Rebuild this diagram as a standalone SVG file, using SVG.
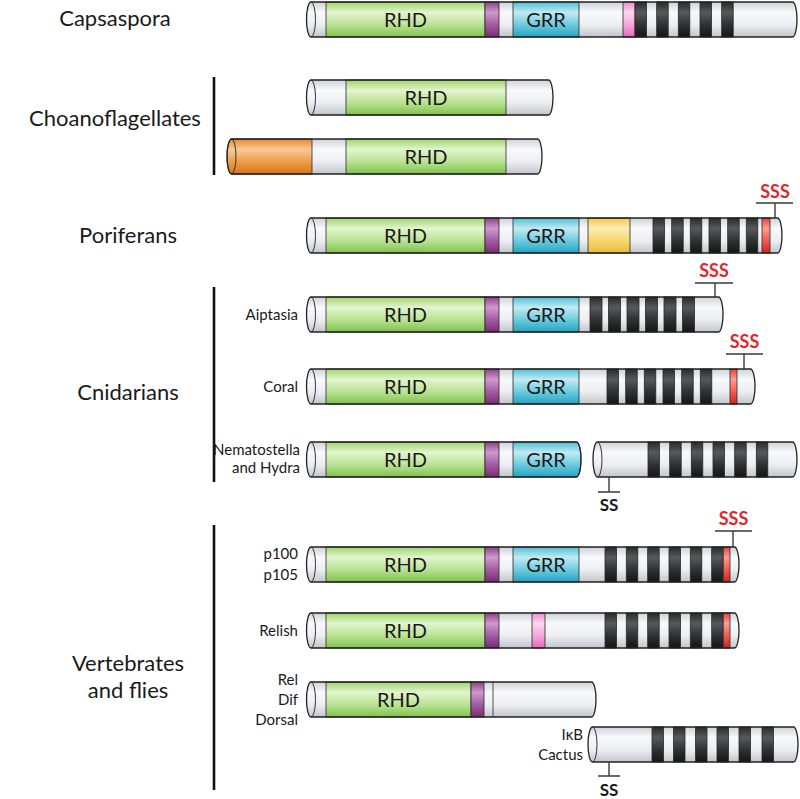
<svg xmlns="http://www.w3.org/2000/svg" width="800" height="799" viewBox="0 0 800 799">
<defs>
<linearGradient id="gGrey" x1="0" y1="0" x2="0" y2="1"><stop offset="0" stop-color="#cfd2d8"/><stop offset="0.3" stop-color="#f8f9fb"/><stop offset="0.65" stop-color="#eceef1"/><stop offset="1" stop-color="#c2c5cb"/></linearGradient>
<linearGradient id="gGreen" x1="0" y1="0" x2="0" y2="1"><stop offset="0" stop-color="#9fd46c"/><stop offset="0.3" stop-color="#e2f5cf"/><stop offset="0.65" stop-color="#b9e292"/><stop offset="1" stop-color="#7fc24c"/></linearGradient>
<linearGradient id="gPurple" x1="0" y1="0" x2="0" y2="1"><stop offset="0" stop-color="#8e3f8b"/><stop offset="0.3" stop-color="#cf9acb"/><stop offset="0.65" stop-color="#a35aa0"/><stop offset="1" stop-color="#7a2c77"/></linearGradient>
<linearGradient id="gCyan" x1="0" y1="0" x2="0" y2="1"><stop offset="0" stop-color="#4fbfd6"/><stop offset="0.3" stop-color="#c2eaf3"/><stop offset="0.65" stop-color="#6ccbde"/><stop offset="1" stop-color="#22a4c2"/></linearGradient>
<linearGradient id="gPink" x1="0" y1="0" x2="0" y2="1"><stop offset="0" stop-color="#f08ccd"/><stop offset="0.3" stop-color="#fcd6ee"/><stop offset="0.65" stop-color="#f5a6da"/><stop offset="1" stop-color="#e866bd"/></linearGradient>
<linearGradient id="gBlack" x1="0" y1="0" x2="0" y2="1"><stop offset="0" stop-color="#2a2a2c"/><stop offset="0.3" stop-color="#58595c"/><stop offset="0.65" stop-color="#303133"/><stop offset="1" stop-color="#151516"/></linearGradient>
<linearGradient id="gRed" x1="0" y1="0" x2="0" y2="1"><stop offset="0" stop-color="#e9413a"/><stop offset="0.3" stop-color="#ff9d94"/><stop offset="0.65" stop-color="#f25a50"/><stop offset="1" stop-color="#d2221c"/></linearGradient>
<linearGradient id="gOrange" x1="0" y1="0" x2="0" y2="1"><stop offset="0" stop-color="#e8882a"/><stop offset="0.3" stop-color="#f8c996"/><stop offset="0.65" stop-color="#ee9c4a"/><stop offset="1" stop-color="#db7418"/></linearGradient>
<linearGradient id="gYellow" x1="0" y1="0" x2="0" y2="1"><stop offset="0" stop-color="#f1c94e"/><stop offset="0.3" stop-color="#fcecb2"/><stop offset="0.65" stop-color="#f5d66e"/><stop offset="1" stop-color="#e9bc38"/></linearGradient>
</defs>
<style>
.body{fill:url(#gGrey);stroke:none}
.ol{fill:none;stroke:#222;stroke-width:1.3}
.face{fill:none;stroke:#333;stroke-width:1}
.seg{stroke:#2a2a2a;stroke-width:0.8}
.rhd{fill:url(#gGreen)}
.pur{fill:url(#gPurple)}
.grr{fill:url(#gCyan)}
.pnk{fill:url(#gPink)}
.ank{fill:url(#gBlack)}
.red{fill:url(#gRed)}
.org{fill:url(#gOrange)}
.yel{fill:url(#gYellow)}
.dom{font-family:Lato,"Open Sans",sans-serif;font-size:20px;fill:#1a1a1a;text-anchor:middle}
.grp{font-family:Lato,"Open Sans",sans-serif;font-size:22px;fill:#1a1a1a;text-anchor:middle}
.sub{font-family:Lato,"Open Sans",sans-serif;font-size:15px;fill:#1a1a1a;text-anchor:end}
.sss{font-family:Lato,"Open Sans",sans-serif;font-size:18px;font-weight:bold;fill:#e3262b;text-anchor:middle}
.ss{font-family:Lato,"Open Sans",sans-serif;font-size:17px;font-weight:bold;fill:#1a1a1a;text-anchor:middle}
.stem{fill:none;stroke:#3a3a3a;stroke-width:1.4}
.vbar{stroke:#111;stroke-width:2.6}
</style>

<g id="labels">
<text class="grp" x="115" y="26">Capsaspora</text>
<text class="grp" x="115" y="126">Choanoflagellates</text>
<text class="grp" x="128" y="243">Poriferans</text>
<text class="grp" x="128" y="400">Cnidarians</text>
<text class="grp" x="128" y="671">Vertebrates</text>
<text class="grp" x="128" y="698">and flies</text>
<line class="vbar" x1="214" y1="77" x2="214" y2="175"/>
<line class="vbar" x1="214" y1="287" x2="214" y2="482"/>
<line class="vbar" x1="214" y1="525" x2="214" y2="790"/>
<text class="sub" x="298" y="320">Aiptasia</text>
<text class="sub" x="298" y="392">Coral</text>
<text class="sub" x="300" y="455">Nematostella</text>
<text class="sub" x="300" y="473">and Hydra</text>
<text class="sub" x="298" y="559">p100</text>
<text class="sub" x="298" y="580">p105</text>
<text class="sub" x="298" y="636">Relish</text>
<text class="sub" x="298" y="685">Rel</text>
<text class="sub" x="298" y="705">Dif</text>
<text class="sub" x="298" y="725">Dorsal</text>
<text class="sub" x="583" y="740">IκB</text>
<text class="sub" x="583" y="760">Cactus</text>
</g>

<g id="capsaspora">
<path class="body" d="M311,2 H792.5 A4.5,17.5 0 0 1 792.5,37 H311 A4.5,17.5 0 0 1 311,2 Z"/>
<rect class="rhd seg" x="326" y="2" width="159" height="35"/>
<rect class="pur seg" x="485" y="2" width="14" height="35"/>
<rect class="grr seg" x="513" y="2" width="66" height="35"/>
<rect class="pnk seg" x="623" y="2" width="12" height="35"/>
<rect class="ank seg" x="635" y="2" width="11.5" height="35"/>
<rect class="ank seg" x="656.7" y="2" width="11.5" height="35"/>
<rect class="ank seg" x="678.3" y="2" width="11.5" height="35"/>
<rect class="ank seg" x="700" y="2" width="11.5" height="35"/>
<rect class="ank seg" x="721.7" y="2" width="11.5" height="35"/>
<path class="face" d="M311,2 A4.5,17.5 0 0 1 311,37"/>
<path class="ol" d="M311,2 H792.5 A4.5,17.5 0 0 1 792.5,37 H311 A4.5,17.5 0 0 1 311,2 Z"/>
<text class="dom" x="405.5" y="26.5">RHD</text>
<text class="dom" x="546" y="26.5">GRR</text>
</g>

<g id="choano1">
<path class="body" d="M311,80 H548.5 A4.5,17.5 0 0 1 548.5,115 H311 A4.5,17.5 0 0 1 311,80 Z"/>
<rect class="rhd seg" x="346" y="80" width="160" height="35"/>
<path class="face" d="M311,80 A4.5,17.5 0 0 1 311,115"/>
<path class="ol" d="M311,80 H548.5 A4.5,17.5 0 0 1 548.5,115 H311 A4.5,17.5 0 0 1 311,80 Z"/>
<text class="dom" x="426" y="104.5">RHD</text>
</g>

<g id="choano2">
<path class="body" d="M231.5,139 H537.5 A4.5,17.5 0 0 1 537.5,174 H231.5 A4.5,17.5 0 0 1 231.5,139 Z"/>
<path class="org seg" d="M312,139 H231.5 A4.5,17.5 0 0 0 231.5,174 H312 Z"/>
<rect class="rhd seg" x="346" y="139" width="160" height="35"/>
<path class="face" d="M231.5,139 A4.5,17.5 0 0 1 231.5,174"/>
<path class="ol" d="M231.5,139 H537.5 A4.5,17.5 0 0 1 537.5,174 H231.5 A4.5,17.5 0 0 1 231.5,139 Z"/>
<text class="dom" x="426" y="163.5">RHD</text>
</g>

<g id="poriferans">
<path class="body" d="M311,218 H777.5 A4.5,17.5 0 0 1 777.5,253 H311 A4.5,17.5 0 0 1 311,218 Z"/>
<rect class="rhd seg" x="326" y="218" width="159" height="35"/>
<rect class="pur seg" x="485" y="218" width="14" height="35"/>
<rect class="grr seg" x="513" y="218" width="66" height="35"/>
<rect class="yel seg" x="588" y="218" width="42" height="35"/>
<rect class="ank seg" x="653" y="218" width="11.5" height="35"/>
<rect class="ank seg" x="671.7" y="218" width="11.5" height="35"/>
<rect class="ank seg" x="690.3" y="218" width="11.5" height="35"/>
<rect class="ank seg" x="709" y="218" width="11.5" height="35"/>
<rect class="ank seg" x="727.7" y="218" width="11.5" height="35"/>
<rect class="ank seg" x="746.3" y="218" width="11.5" height="35"/>
<rect class="red seg" x="762" y="218" width="8" height="35"/>
<path class="face" d="M311,218 A4.5,17.5 0 0 1 311,253"/>
<path class="ol" d="M311,218 H777.5 A4.5,17.5 0 0 1 777.5,253 H311 A4.5,17.5 0 0 1 311,218 Z"/>
<text class="dom" x="405.5" y="242.5">RHD</text>
<text class="dom" x="546" y="242.5">GRR</text>
<path class="stem" d="M775,218 V203 M756,203 H793"/>
<text class="sss" x="775" y="198">SSS</text>
</g>

<g id="aiptasia">
<path class="body" d="M311,297 H718.5 A4.5,17.5 0 0 1 718.5,332 H311 A4.5,17.5 0 0 1 311,297 Z"/>
<rect class="rhd seg" x="326" y="297" width="159" height="35"/>
<rect class="pur seg" x="485" y="297" width="14" height="35"/>
<rect class="grr seg" x="513" y="297" width="66" height="35"/>
<rect class="ank seg" x="590" y="297" width="12" height="35"/>
<rect class="ank seg" x="608.5" y="297" width="12" height="35"/>
<rect class="ank seg" x="627" y="297" width="12" height="35"/>
<rect class="ank seg" x="645.5" y="297" width="12" height="35"/>
<rect class="ank seg" x="664" y="297" width="12" height="35"/>
<rect class="ank seg" x="682.5" y="297" width="12" height="35"/>
<path class="face" d="M311,297 A4.5,17.5 0 0 1 311,332"/>
<path class="ol" d="M311,297 H718.5 A4.5,17.5 0 0 1 718.5,332 H311 A4.5,17.5 0 0 1 311,297 Z"/>
<text class="dom" x="405.5" y="321.5">RHD</text>
<text class="dom" x="546" y="321.5">GRR</text>
<path class="stem" d="M715,297 V283 M695,283 H733"/>
<text class="sss" x="714" y="277">SSS</text>
</g>

<g id="coral">
<path class="body" d="M311,369 H750.5 A4.5,17.5 0 0 1 750.5,404 H311 A4.5,17.5 0 0 1 311,369 Z"/>
<rect class="rhd seg" x="326" y="369" width="159" height="35"/>
<rect class="pur seg" x="485" y="369" width="14" height="35"/>
<rect class="grr seg" x="513" y="369" width="66" height="35"/>
<rect class="ank seg" x="607" y="369" width="11.5" height="35"/>
<rect class="ank seg" x="625.7" y="369" width="11.5" height="35"/>
<rect class="ank seg" x="644.3" y="369" width="11.5" height="35"/>
<rect class="ank seg" x="663" y="369" width="11.5" height="35"/>
<rect class="ank seg" x="681.7" y="369" width="11.5" height="35"/>
<rect class="ank seg" x="700.3" y="369" width="11.5" height="35"/>
<rect class="red seg" x="730" y="369" width="7" height="35"/>
<path class="face" d="M311,369 A4.5,17.5 0 0 1 311,404"/>
<path class="ol" d="M311,369 H750.5 A4.5,17.5 0 0 1 750.5,404 H311 A4.5,17.5 0 0 1 311,369 Z"/>
<text class="dom" x="405.5" y="393.5">RHD</text>
<text class="dom" x="546" y="393.5">GRR</text>
<path class="stem" d="M744,369 V354 M726,354 H763"/>
<text class="sss" x="744.5" y="348">SSS</text>
</g>

<g id="nematostella">
<path class="body" d="M311,442 H576.5 A4.5,17.5 0 0 1 576.5,477 H311 A4.5,17.5 0 0 1 311,442 Z"/>
<rect class="rhd seg" x="326" y="442" width="159" height="35"/>
<rect class="pur seg" x="485" y="442" width="14" height="35"/>
<path class="grr seg" d="M513,442 H576.5 A4.5,17.5 0 0 1 576.5,477 H513 Z"/>
<path class="face" d="M311,442 A4.5,17.5 0 0 1 311,477"/>
<path class="ol" d="M311,442 H576.5 A4.5,17.5 0 0 1 576.5,477 H311 A4.5,17.5 0 0 1 311,442 Z"/>
<text class="dom" x="405.5" y="466.5">RHD</text>
<text class="dom" x="546" y="466.5">GRR</text>
<path class="body" d="M597.5,442 H792.5 A4.5,17.5 0 0 1 792.5,477 H597.5 A4.5,17.5 0 0 1 597.5,442 Z"/>
<rect class="ank seg" x="648" y="442" width="11.5" height="35"/>
<rect class="ank seg" x="669.7" y="442" width="11.5" height="35"/>
<rect class="ank seg" x="691.3" y="442" width="11.5" height="35"/>
<rect class="ank seg" x="713" y="442" width="11.5" height="35"/>
<rect class="ank seg" x="734.7" y="442" width="11.5" height="35"/>
<rect class="ank seg" x="756.3" y="442" width="11.5" height="35"/>
<path class="face" d="M597.5,442 A4.5,17.5 0 0 1 597.5,477"/>
<path class="ol" d="M597.5,442 H792.5 A4.5,17.5 0 0 1 792.5,477 H597.5 A4.5,17.5 0 0 1 597.5,442 Z"/>
<path class="stem" d="M609,477 V492 M598,492 H620"/>
<text class="ss" x="609" y="511">SS</text>
</g>

<g id="p100">
<path class="body" d="M311,547 H734.5 A4.5,17.5 0 0 1 734.5,582 H311 A4.5,17.5 0 0 1 311,547 Z"/>
<rect class="rhd seg" x="326" y="547" width="159" height="35"/>
<rect class="pur seg" x="485" y="547" width="14" height="35"/>
<rect class="grr seg" x="513" y="547" width="66" height="35"/>
<rect class="ank seg" x="605" y="547" width="11.5" height="35"/>
<rect class="ank seg" x="626.3" y="547" width="11.5" height="35"/>
<rect class="ank seg" x="647.7" y="547" width="11.5" height="35"/>
<rect class="ank seg" x="669" y="547" width="11.5" height="35"/>
<rect class="ank seg" x="690.3" y="547" width="11.5" height="35"/>
<rect class="ank seg" x="711.7" y="547" width="11.5" height="35"/>
<rect class="red seg" x="723.2" y="547" width="6.8" height="35"/>
<path class="face" d="M311,547 A4.5,17.5 0 0 1 311,582"/>
<path class="ol" d="M311,547 H734.5 A4.5,17.5 0 0 1 734.5,582 H311 A4.5,17.5 0 0 1 311,547 Z"/>
<text class="dom" x="405.5" y="571.5">RHD</text>
<text class="dom" x="546" y="571.5">GRR</text>
<path class="stem" d="M733,547 V531 M715,531 H752"/>
<text class="sss" x="733.5" y="525">SSS</text>
</g>

<g id="relish">
<path class="body" d="M311,613 H734.5 A4.5,17.5 0 0 1 734.5,648 H311 A4.5,17.5 0 0 1 311,613 Z"/>
<rect class="rhd seg" x="326" y="613" width="159" height="35"/>
<rect class="pur seg" x="485" y="613" width="14" height="35"/>
<rect class="pnk seg" x="532" y="613" width="13" height="35"/>
<rect class="ank seg" x="605" y="613" width="11.5" height="35"/>
<rect class="ank seg" x="626.3" y="613" width="11.5" height="35"/>
<rect class="ank seg" x="647.7" y="613" width="11.5" height="35"/>
<rect class="ank seg" x="669" y="613" width="11.5" height="35"/>
<rect class="ank seg" x="690.3" y="613" width="11.5" height="35"/>
<rect class="ank seg" x="711.7" y="613" width="11.5" height="35"/>
<rect class="red seg" x="723.2" y="613" width="6.8" height="35"/>
<path class="face" d="M311,613 A4.5,17.5 0 0 1 311,648"/>
<path class="ol" d="M311,613 H734.5 A4.5,17.5 0 0 1 734.5,648 H311 A4.5,17.5 0 0 1 311,613 Z"/>
<text class="dom" x="405.5" y="637.5">RHD</text>
</g>

<g id="rel">
<path class="body" d="M311,682 H591.5 A4.5,17.5 0 0 1 591.5,717 H311 A4.5,17.5 0 0 1 311,682 Z"/>
<rect class="rhd seg" x="326" y="682" width="145" height="35"/>
<rect class="pur seg" x="471" y="682" width="13" height="35"/>
<line class="seg" x1="493" y1="682" x2="493" y2="717"/>
<path class="face" d="M311,682 A4.5,17.5 0 0 1 311,717"/>
<path class="ol" d="M311,682 H591.5 A4.5,17.5 0 0 1 591.5,717 H311 A4.5,17.5 0 0 1 311,682 Z"/>
<text class="dom" x="398.5" y="706.5">RHD</text>
</g>

<g id="ikb">
<path class="body" d="M592.5,727 H793.5 A4.5,17.5 0 0 1 793.5,762 H592.5 A4.5,17.5 0 0 1 592.5,727 Z"/>
<rect class="ank seg" x="652" y="727" width="11.5" height="35"/>
<rect class="ank seg" x="673.5" y="727" width="11.5" height="35"/>
<rect class="ank seg" x="695.5" y="727" width="11.5" height="35"/>
<rect class="ank seg" x="717" y="727" width="11.5" height="35"/>
<rect class="ank seg" x="739" y="727" width="11.5" height="35"/>
<rect class="ank seg" x="762" y="727" width="11.5" height="35"/>
<path class="face" d="M592.5,727 A4.5,17.5 0 0 1 592.5,762"/>
<path class="ol" d="M592.5,727 H793.5 A4.5,17.5 0 0 1 793.5,762 H592.5 A4.5,17.5 0 0 1 592.5,727 Z"/>
<path class="stem" d="M609,762 V776 M598,776 H620"/>
<text class="ss" x="609" y="795.5">SS</text>
</g>
</svg>
